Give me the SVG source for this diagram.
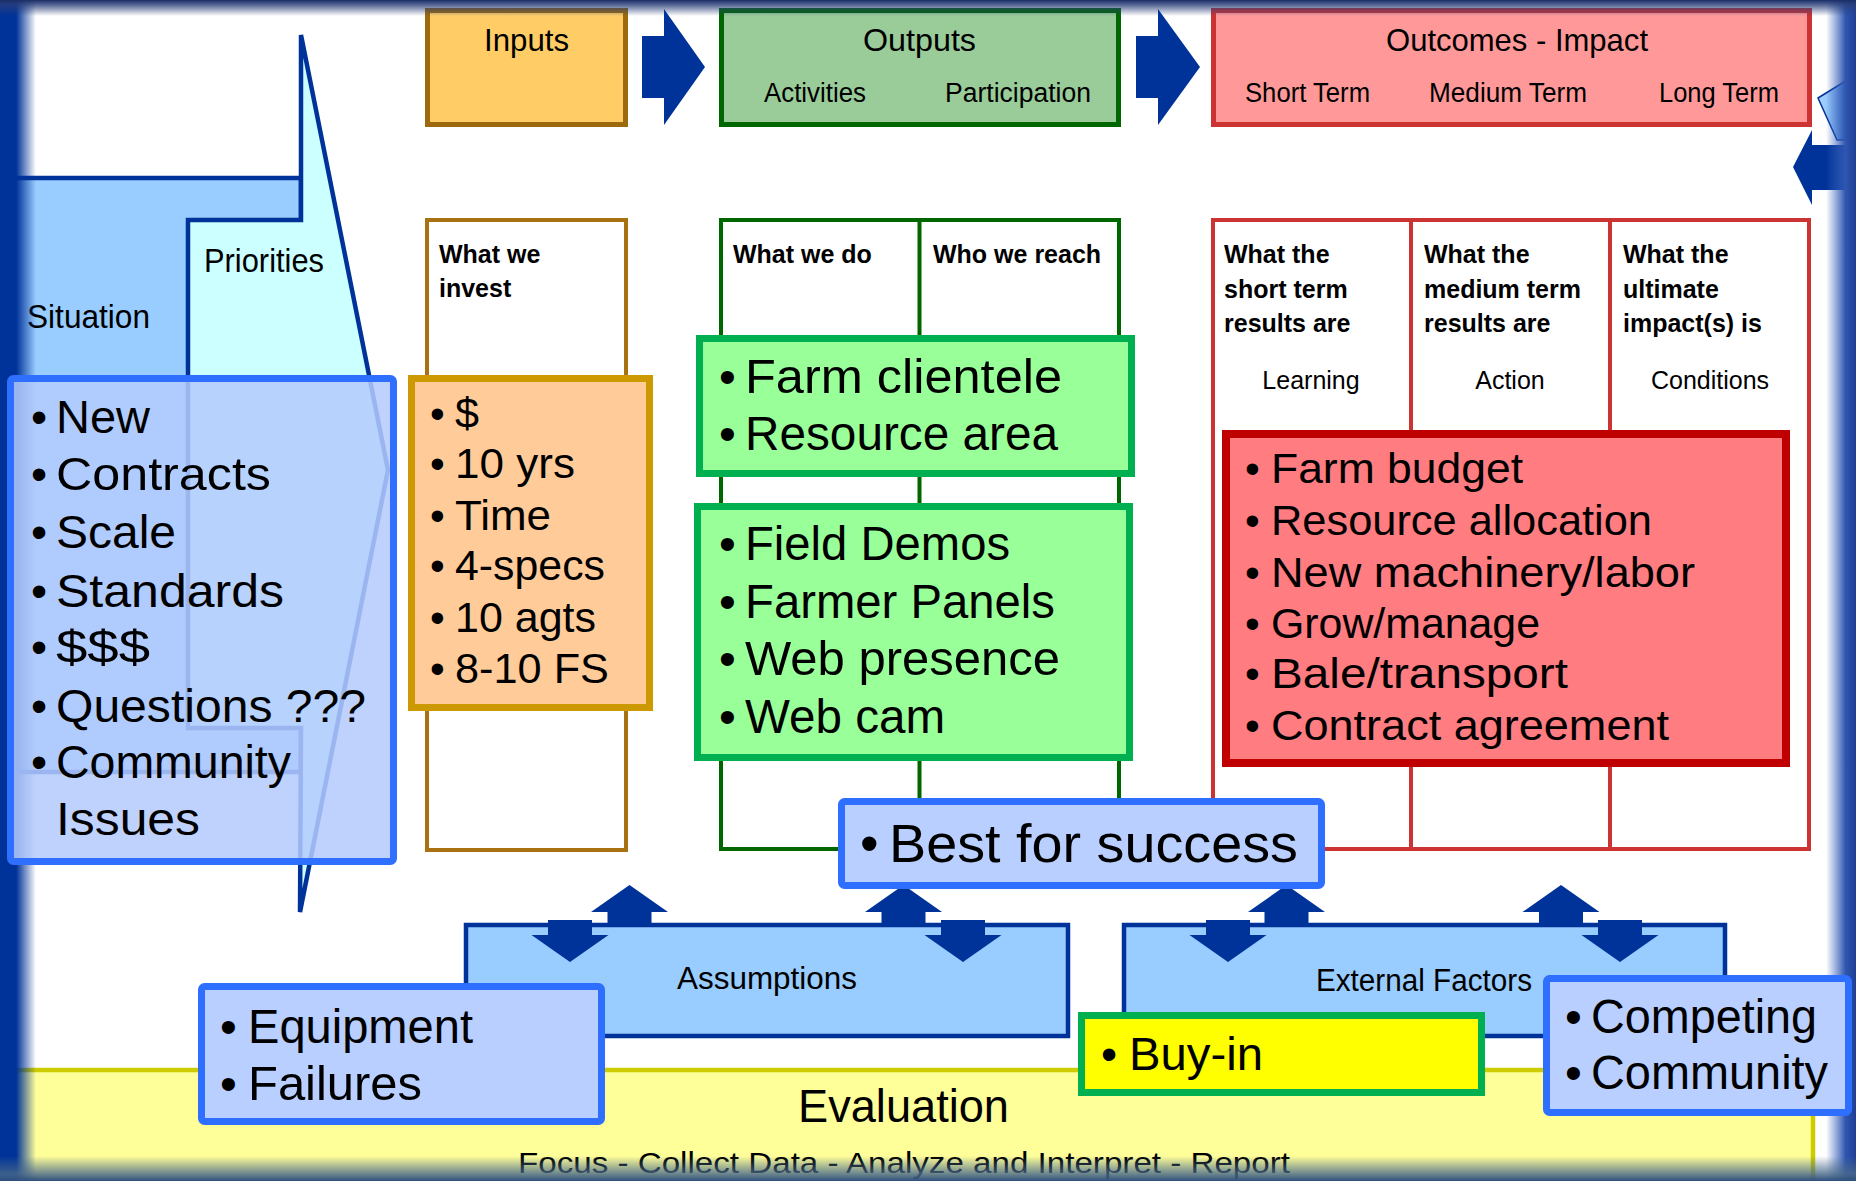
<svg xmlns="http://www.w3.org/2000/svg" xmlns:xlink="http://www.w3.org/1999/xlink" width="1856" height="1181" viewBox="0 0 1856 1181">
<defs>
<style>
.my{font-family:"Liberation Sans",Arial,sans-serif;fill:#000}
.h1{font-size:32px}
.h2{font-size:27px}
.bd{font-family:"Liberation Sans",Arial,sans-serif;font-weight:bold;font-size:25px;fill:#000}
.rg{font-family:"Liberation Sans",Arial,sans-serif;font-size:25px;fill:#000}
.cm{font-family:"Liberation Sans",Arial,sans-serif;fill:#000}
.blk{fill:#003399}
</style>
<linearGradient id="vl" x1="0" y1="0" x2="1" y2="0"><stop offset="0" stop-color="#003399"/><stop offset="0.45" stop-color="#003399"/><stop offset="1" stop-color="#003399" stop-opacity="0"/></linearGradient>
<linearGradient id="vr" x1="1" y1="0" x2="0" y2="0"><stop offset="0" stop-color="#1f3f95"/><stop offset="0.35" stop-color="#2f56b0"/><stop offset="1" stop-color="#3a64c0" stop-opacity="0"/></linearGradient>
<linearGradient id="vt" x1="0" y1="0" x2="0" y2="1"><stop offset="0" stop-color="#1a2d66"/><stop offset="0.3" stop-color="#2a3f7a" stop-opacity="0.8"/><stop offset="1" stop-color="#2a3f7a" stop-opacity="0"/></linearGradient>
<linearGradient id="vb" x1="0" y1="1" x2="0" y2="0"><stop offset="0" stop-color="#2d4f7c"/><stop offset="0.3" stop-color="#4a6a8a" stop-opacity="0.8"/><stop offset="1" stop-color="#4a6a8a" stop-opacity="0"/></linearGradient>
<linearGradient id="lb" x1="0" y1="0" x2="1" y2="0"><stop offset="0" stop-color="#a8d4ff"/><stop offset="1" stop-color="#5c9ae6"/></linearGradient>
<path id="up" d="M-22,41 L-22,27 L-38.5,27 L0,0 L38.5,27 L22,27 L22,41 Z"/>
<path id="dn" d="M-22,-42 L22,-42 L22,-27 L38.5,-27 L0,0 L-38.5,-27 L-22,-27 Z"/>
</defs>
<rect x="0" y="0" width="1856" height="1181" fill="#ffffff"/>

<g id="situation">
<polygon points="-5,178 301,178 301,772 -5,772" fill="#99CCFF" stroke="#003399" stroke-width="4.5"/>
<text class="my" x="27" y="328" font-size="33" textLength="123" lengthAdjust="spacingAndGlyphs">Situation</text>
</g>
<g id="priorities">
<polygon points="301,35 388,470 300,912 301,728 188,728 188,220 301,220" fill="#CCFFFF" stroke="#003399" stroke-width="4.5"/>
<text class="my" x="204" y="272" font-size="33" textLength="120" lengthAdjust="spacingAndGlyphs">Priorities</text>
</g>

<g id="inputs-header">
<rect x="427.5" y="10.5" width="198" height="114" fill="#FFCC66" stroke="#9C6A0C" stroke-width="5"/>
<text class="my h1" x="484" y="51" textLength="85" lengthAdjust="spacingAndGlyphs">Inputs</text>
</g>
<g id="outputs-header">
<rect x="721.5" y="10.5" width="397" height="114" fill="#99CC99" stroke="#006600" stroke-width="5"/>
<text class="my h1" x="863" y="51" textLength="113" lengthAdjust="spacingAndGlyphs">Outputs</text>
<text class="my h2" x="764" y="102" textLength="102" lengthAdjust="spacingAndGlyphs">Activities</text>
<text class="my h2" x="945" y="102" textLength="146" lengthAdjust="spacingAndGlyphs">Participation</text>
</g>
<g id="outcomes-header">
<rect x="1213.5" y="10.5" width="596" height="114" fill="#FF9999" stroke="#CC3333" stroke-width="5"/>
<text class="my h1" x="1386" y="51" textLength="262" lengthAdjust="spacingAndGlyphs">Outcomes - Impact</text>
<text class="my h2" x="1245" y="102" textLength="125" lengthAdjust="spacingAndGlyphs">Short Term</text>
<text class="my h2" x="1429" y="102" textLength="158" lengthAdjust="spacingAndGlyphs">Medium Term</text>
<text class="my h2" x="1659" y="102" textLength="120" lengthAdjust="spacingAndGlyphs">Long Term</text>
</g>

<g id="inputs-detail">
<rect x="427" y="220" width="199" height="630" fill="#ffffff" stroke="#A87212" stroke-width="4"/>
<text class="bd" x="439" y="263">What we</text>
<text class="bd" x="439" y="297">invest</text>
</g>
<g id="outputs-detail">
<rect x="721" y="220" width="398" height="629" fill="#ffffff" stroke="#006600" stroke-width="4"/>
<line x1="919.5" y1="220" x2="919.5" y2="849" stroke="#006600" stroke-width="4"/>
<text class="bd" x="733" y="263">What we do</text>
<text class="bd" x="933" y="263">Who we reach</text>
</g>
<g id="outcomes-detail">
<rect x="1213" y="220" width="596" height="629" fill="#ffffff" stroke="#CC3333" stroke-width="4"/>
<line x1="1411" y1="220" x2="1411" y2="849" stroke="#CC3333" stroke-width="4"/>
<line x1="1610" y1="220" x2="1610" y2="849" stroke="#CC3333" stroke-width="4"/>
<text class="bd" x="1224" y="263">What the</text>
<text class="bd" x="1224" y="298">short term</text>
<text class="bd" x="1224" y="332">results are</text>
<text class="bd" x="1424" y="263">What the</text>
<text class="bd" x="1424" y="298">medium term</text>
<text class="bd" x="1424" y="332">results are</text>
<text class="bd" x="1623" y="263">What the</text>
<text class="bd" x="1623" y="298">ultimate</text>
<text class="bd" x="1623" y="332">impact(s) is</text>
<text class="rg" x="1311" y="389" text-anchor="middle">Learning</text>
<text class="rg" x="1510" y="389" text-anchor="middle">Action</text>
<text class="rg" x="1710" y="389" text-anchor="middle">Conditions</text>
</g>

<g id="cycle-arrows">
<polygon points="1818,98 1852,77 1862,88 1862,140 1837,140" fill="url(#lb)" stroke="#003399" stroke-width="1.5"/>
<polygon points="1793,167 1812,130 1812,145 1862,145 1862,190 1812,190 1812,205" fill="#003399"/>
</g>

<g id="evaluation">
<rect x="-5" y="1070" width="1818" height="130" fill="#FFFF99" stroke="#CCCC00" stroke-width="4.5"/>
<text class="my" x="798" y="1122" font-size="47" textLength="211" lengthAdjust="spacingAndGlyphs">Evaluation</text>
<text class="my" x="518" y="1173" font-size="30" textLength="772" lengthAdjust="spacingAndGlyphs">Focus - Collect Data - Analyze and Interpret - Report</text>
</g>

<g id="frame">
<rect x="0" y="0" width="36" height="1181" fill="url(#vl)"/>
<rect x="1826" y="0" width="30" height="1181" fill="url(#vr)"/>
<rect x="0" y="0" width="1856" height="16" fill="url(#vt)"/>
<rect x="0" y="1156" width="1856" height="25" fill="url(#vb)"/>
</g>

<g id="assumptions">
<rect x="466" y="925" width="602" height="111" fill="#99CCFF" stroke="#003399" stroke-width="4.5"/>
<text class="my" x="677" y="989" font-size="31" textLength="180" lengthAdjust="spacingAndGlyphs">Assumptions</text>
</g>
<g id="external-factors">
<rect x="1124" y="925" width="601" height="111" fill="#99CCFF" stroke="#003399" stroke-width="4.5"/>
<text class="my" x="1316" y="991" font-size="31" textLength="216" lengthAdjust="spacingAndGlyphs">External Factors</text>
</g>

<g id="connectors">
<polygon class="blk" points="642,36 664,36 664,9 705,67 664,125 664,98 642,98"/>
<polygon class="blk" points="1136,36 1158,36 1158,9 1200,67 1158,125 1158,98 1136,98"/>
<use xlink:href="#up" class="blk" transform="translate(629.5,885)"/>
<use xlink:href="#dn" class="blk" transform="translate(570,962)"/>
<use xlink:href="#up" class="blk" transform="translate(903.5,885)"/>
<use xlink:href="#dn" class="blk" transform="translate(963,962)"/>
<use xlink:href="#up" class="blk" transform="translate(1286.5,885)"/>
<use xlink:href="#dn" class="blk" transform="translate(1228,962)"/>
<use xlink:href="#up" class="blk" transform="translate(1561,885)"/>
<use xlink:href="#dn" class="blk" transform="translate(1620,962)"/>
</g>

<g id="situation-items">
<rect x="10.5" y="378.5" width="383" height="483" rx="3" fill="#B3CBFD" fill-opacity="0.86" stroke="#2F6FFF" stroke-width="7"/>
<g class="cm" font-size="46">
<text y="433"><tspan x="31">•</tspan><tspan x="56" textLength="94" lengthAdjust="spacingAndGlyphs">New</tspan></text>
<text y="490"><tspan x="31">•</tspan><tspan x="56" textLength="215" lengthAdjust="spacingAndGlyphs">Contracts</tspan></text>
<text y="548"><tspan x="31">•</tspan><tspan x="56" textLength="120" lengthAdjust="spacingAndGlyphs">Scale</tspan></text>
<text y="607"><tspan x="31">•</tspan><tspan x="56" textLength="228" lengthAdjust="spacingAndGlyphs">Standards</tspan></text>
<text y="663"><tspan x="31">•</tspan><tspan x="56" textLength="94" lengthAdjust="spacingAndGlyphs">$$$</tspan></text>
<text y="722"><tspan x="31">•</tspan><tspan x="56" textLength="310" lengthAdjust="spacingAndGlyphs">Questions ???</tspan></text>
<text y="778"><tspan x="31">•</tspan><tspan x="56" textLength="235" lengthAdjust="spacingAndGlyphs">Community</tspan></text>
<text y="835"><tspan x="56" textLength="144" lengthAdjust="spacingAndGlyphs">Issues</tspan></text>
</g>
</g>

<g id="inputs-items">
<rect x="411.5" y="378.5" width="238" height="329" fill="#FFCC99" stroke="#CC9900" stroke-width="7"/>
<g class="cm" font-size="42">
<text y="428"><tspan x="430">•</tspan><tspan x="455" textLength="24" lengthAdjust="spacingAndGlyphs">$</tspan></text>
<text y="478"><tspan x="430">•</tspan><tspan x="455" textLength="120" lengthAdjust="spacingAndGlyphs">10 yrs</tspan></text>
<text y="530"><tspan x="430">•</tspan><tspan x="455" textLength="96" lengthAdjust="spacingAndGlyphs">Time</tspan></text>
<text y="580"><tspan x="430">•</tspan><tspan x="455" textLength="150" lengthAdjust="spacingAndGlyphs">4-specs</tspan></text>
<text y="632"><tspan x="430">•</tspan><tspan x="455" textLength="141" lengthAdjust="spacingAndGlyphs">10 agts</tspan></text>
<text y="683"><tspan x="430">•</tspan><tspan x="455" textLength="154" lengthAdjust="spacingAndGlyphs">8-10 FS</tspan></text>
</g>
</g>

<g id="participation-items">
<rect x="699.5" y="338.5" width="432" height="135" fill="#99FF99" stroke="#00B050" stroke-width="7"/>
<g class="cm" font-size="48">
<text y="393"><tspan x="719">•</tspan><tspan x="745" textLength="317" lengthAdjust="spacingAndGlyphs">Farm clientele</tspan></text>
<text y="450"><tspan x="719">•</tspan><tspan x="745" textLength="313" lengthAdjust="spacingAndGlyphs">Resource area</tspan></text>
</g>
</g>

<g id="activities-items">
<rect x="697.5" y="506.5" width="432" height="251" fill="#99FF99" stroke="#00B050" stroke-width="7"/>
<g class="cm" font-size="48">
<text y="560"><tspan x="719">•</tspan><tspan x="745" textLength="265" lengthAdjust="spacingAndGlyphs">Field Demos</tspan></text>
<text y="618"><tspan x="719">•</tspan><tspan x="745" textLength="310" lengthAdjust="spacingAndGlyphs">Farmer Panels</tspan></text>
<text y="675"><tspan x="719">•</tspan><tspan x="745" textLength="315" lengthAdjust="spacingAndGlyphs">Web presence</tspan></text>
<text y="733"><tspan x="719">•</tspan><tspan x="745" textLength="200" lengthAdjust="spacingAndGlyphs">Web cam</tspan></text>
</g>
</g>

<g id="outcomes-items">
<rect x="1226" y="434" width="560" height="329" fill="#FF7C80" stroke="#C00000" stroke-width="8"/>
<g class="cm" font-size="42">
<text y="483"><tspan x="1245">•</tspan><tspan x="1271" textLength="252" lengthAdjust="spacingAndGlyphs">Farm budget</tspan></text>
<text y="535"><tspan x="1245">•</tspan><tspan x="1271" textLength="381" lengthAdjust="spacingAndGlyphs">Resource allocation</tspan></text>
<text y="587"><tspan x="1245">•</tspan><tspan x="1271" textLength="424" lengthAdjust="spacingAndGlyphs">New machinery/labor</tspan></text>
<text y="638"><tspan x="1245">•</tspan><tspan x="1271" textLength="269" lengthAdjust="spacingAndGlyphs">Grow/manage</tspan></text>
<text y="688"><tspan x="1245">•</tspan><tspan x="1271" textLength="297" lengthAdjust="spacingAndGlyphs">Bale/transport</tspan></text>
<text y="740"><tspan x="1245">•</tspan><tspan x="1271" textLength="398" lengthAdjust="spacingAndGlyphs">Contract agreement</tspan></text>
</g>
</g>

<g id="best-for-success">
<rect x="841.5" y="801.5" width="480" height="84" rx="3" fill="#B8CFFF" stroke="#2F6FFF" stroke-width="7"/>
<text class="cm" y="862" font-size="53"><tspan x="860">•</tspan><tspan x="889" textLength="409" lengthAdjust="spacingAndGlyphs">Best for success</tspan></text>
</g>

<g id="buy-in">
<rect x="1081.5" y="1015.5" width="400" height="77" fill="#FFFF00" stroke="#00B050" stroke-width="7"/>
<text class="cm" y="1070" font-size="46"><tspan x="1101">•</tspan><tspan x="1129" textLength="134" lengthAdjust="spacingAndGlyphs">Buy-in</tspan></text>
</g>

<g id="equipment">
<rect x="201.5" y="986.5" width="400" height="135" rx="3" fill="#B8CFFF" stroke="#2F6FFF" stroke-width="7"/>
<g class="cm" font-size="48">
<text y="1043"><tspan x="220">•</tspan><tspan x="248" textLength="225" lengthAdjust="spacingAndGlyphs">Equipment</tspan></text>
<text y="1100"><tspan x="220">•</tspan><tspan x="248" textLength="174" lengthAdjust="spacingAndGlyphs">Failures</tspan></text>
</g>
</g>

<g id="competing">
<rect x="1546.5" y="978.5" width="302" height="134" rx="3" fill="#B8CFFF" stroke="#2F6FFF" stroke-width="7"/>
<g class="cm" font-size="48">
<text y="1033"><tspan x="1565">•</tspan><tspan x="1591" textLength="226" lengthAdjust="spacingAndGlyphs">Competing</tspan></text>
<text y="1089"><tspan x="1565">•</tspan><tspan x="1591" textLength="237" lengthAdjust="spacingAndGlyphs">Community</tspan></text>
</g>
</g>
</svg>
